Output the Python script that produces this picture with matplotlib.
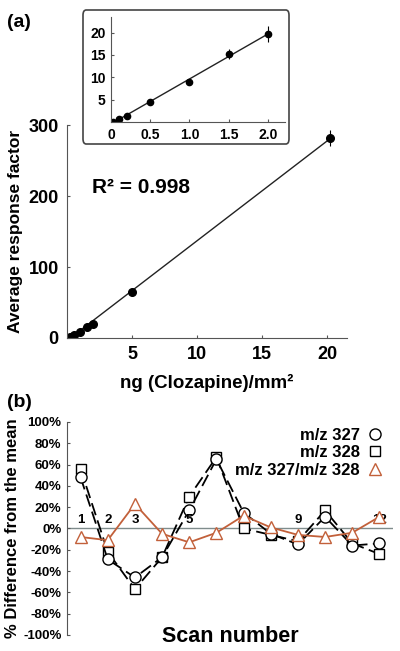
import matplotlib.pyplot as plt
import numpy as np
from matplotlib.patches import FancyBboxPatch
from matplotlib.lines import Line2D

plt.rcParams['font.family'] = ['Liberation Sans', 'DejaVu Sans']
plt.rcParams['font.weight'] = 'bold'
plt.rcParams['axes.labelweight'] = 'bold'

# (a) calibration data
conc = [0.02, 0.1, 0.2, 0.5, 1.0, 1.5, 2.0, 5.0, 20.2]
resp = [0.1, 0.6, 1.4, 4.5, 9.0, 15.2, 19.6, 65.0, 282.0]
resp_err = [0.1, 0.2, 0.2, 0.3, 0.7, 1.2, 1.8, 2.0, 11.0]

# (b) scan-to-scan variation (%)
scans = list(range(1, 13))
mz327 = [48, -29, -46, -27, 17, 65, 15, -5, -15, 11, -16, -14]
mz328 = [56, -22, -57, -27, 30, 67, 0, -6, -12, 17, -14, -24]
ratio = [-8, -11, 23, -5, -13, -4, 12, 1, -6, -8, -4, 11]
scan_labels = [1, 2, 3, 5, 9, 12]

axcol = '#555555'
orange = '#c2603a'

fig = plt.figure(figsize=(4, 6.51), dpi=100)

# ---- main calibration plot
ax = fig.add_axes([0.1675, 0.4808, 0.70, 0.327])
ax.patch.set_visible(False)
fit = np.polyfit(conc, resp, 1)
xs = np.array([0.3, 20.2])
ax.plot(xs, np.polyval(fit, xs), color='#222222', lw=1.0)
ax.errorbar(conc, resp, yerr=resp_err, fmt='o', color='black', ms=5.5,
            elinewidth=0.8, capsize=0)
ax.set_xlim(0, 21.5)
ax.set_ylim(0, 300)
ax.set_xticks([5, 10, 15, 20])
ax.set_yticks([0, 100, 200, 300])
for s in ['top', 'right']:
    ax.spines[s].set_visible(False)
for s in ['left', 'bottom']:
    ax.spines[s].set_color(axcol)
ax.tick_params(length=2, direction='in', colors=axcol, labelcolor='black',
               labelsize=13, pad=6)
ax.set_ylabel('Average response factor', fontsize=12.5, labelpad=4)
ax.set_xlabel('ng (Clozapine)/mm²', fontsize=13.5, labelpad=8)
ax.text(0.09, 0.68, 'R² = 0.998', transform=ax.transAxes,
        fontsize=15, fontweight='bold')

# ---- inset
box = FancyBboxPatch((83 / 400, 1 - 144 / 651), 206 / 400, 134 / 651,
                     boxstyle='round,pad=0,rounding_size=0.008',
                     transform=fig.transFigure, facecolor='white',
                     edgecolor='#444444', lw=1.2, zorder=-1)
fig.patches.append(box)
ins = fig.add_axes([0.2775, 0.8126, 0.435, 0.1613])
ins.patch.set_visible(False)
ic, ir, ie = conc[:7], resp[:7], resp_err[:7]
ifit = np.polyfit(ic, ir, 1)
xi = np.array([0.0, 2.0])
ins.plot(xi, np.polyval(ifit, xi), color='#222222', lw=1.0)
ins.errorbar(ic, ir, yerr=ie, fmt='o', color='black', ms=4.5,
             elinewidth=0.8, capsize=0)
ins.set_xlim(0, 2.22)
ins.set_ylim(0, 23.5)
ins.set_xticks([0, 0.5, 1.0, 1.5, 2.0])
ins.set_xticklabels(['0', '0.5', '1.0', '1.5', '2.0'])
ins.set_yticks([5, 10, 15, 20])
for s in ['top', 'right']:
    ins.spines[s].set_visible(False)
for s in ['left', 'bottom']:
    ins.spines[s].set_color(axcol)
ins.tick_params(length=2, direction='in', colors=axcol, labelcolor='black',
                labelsize=10, pad=4)

fig.text(0.018, 0.966, '(a)', fontsize=14, fontweight='bold', va='center')
fig.text(0.018, 0.382, '(b)', fontsize=14, fontweight='bold', va='center')

# ---- (b) variation plot
bx = fig.add_axes([0.1675, 0.0246, 0.815, 0.3272])
bx.axhline(0, color='#7f8c8c', lw=1.0, zorder=1)
bx.plot(scans, mz328, color='black', ls=(0, (7, 3)), lw=1.3, marker='s',
        mfc='white', mec='black', ms=7, mew=1.0, label='m/z 328', zorder=3)
bx.plot(scans, mz327, color='black', ls=(0, (7, 3)), lw=1.3, marker='o',
        mfc='white', mec='black', ms=8, mew=1.0, label='m/z 327', zorder=3)
bx.plot(scans, ratio, color=orange, lw=1.3, marker='^', mfc='white',
        mec=orange, ms=8, mew=1.0, label='m/z 327/m/z 328', zorder=4)
for n in scan_labels:
    bx.text(n, 2, str(n), ha='center', va='bottom', fontsize=9.5,
            fontweight='bold')
bx.set_xlim(0.5, 12.5)
bx.set_ylim(-100, 100)
bx.set_yticks(range(-100, 101, 20))
bx.set_yticklabels([f'{v}%' for v in range(-100, 101, 20)])
bx.set_xticks([])
for s in ['top', 'right', 'bottom']:
    bx.spines[s].set_visible(False)
bx.spines['left'].set_color(axcol)
bx.tick_params(axis='y', length=2, direction='in', colors=axcol,
               labelcolor='black', labelsize=9.5, pad=4)
bx.set_ylabel('% Difference from the mean', fontsize=12, labelpad=2)
bx.text(0.5, -0.005, 'Scan number', transform=bx.transAxes, ha='center',
        va='center', fontsize=15.5, fontweight='bold')

handles, labels = bx.get_legend_handles_labels()
order = [1, 0, 2]
hs = [Line2D([], [], ls='none', marker=h.get_marker(), mfc='white',
             mec=h.get_mec(), ms=h.get_markersize(), mew=1.0)
      for h in [handles[i] for i in order]]
leg = bx.legend(hs, [labels[i] for i in order], loc='upper right',
                bbox_to_anchor=(1.0, 1.02), markerfirst=False, frameon=False,
                prop={'size': 12, 'weight': 'bold'}, handlelength=1.0,
                handletextpad=0.4, labelspacing=0.15, borderaxespad=0.2)
leg._legend_box.align = 'right'

fig.savefig('out.png', dpi=100)
